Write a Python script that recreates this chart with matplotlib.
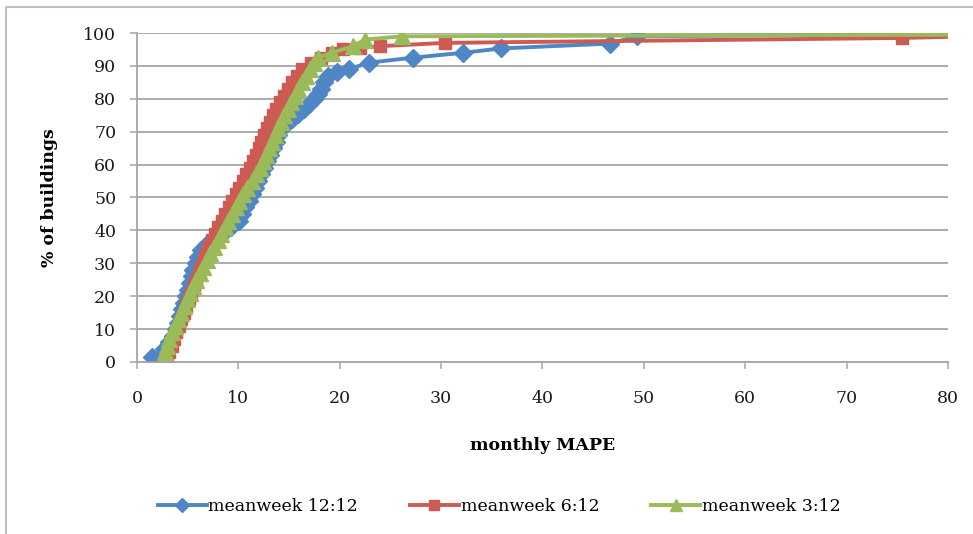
import matplotlib
matplotlib.use('Agg')
import matplotlib.pyplot as plt
from matplotlib.lines import Line2D

plt.rcParams['font.family'] = ['DejaVu Serif']

# cumulative share of buildings (%) vs monthly MAPE
blue_x = [1.5, 2.7, 3.2, 3.55, 3.85, 4.05, 4.25, 4.45, 4.65, 4.85, 5.0, 5.2, 5.4, 5.55, 5.8, 6.0, 6.3,
          6.8, 7.5, 8.4, 9.3, 10.1, 10.4, 10.7, 11.0, 11.3, 11.6, 11.9, 12.2, 12.5, 12.8, 13.1, 13.4, 13.7, 13.95, 14.3,
          14.8, 15.3, 15.9, 16.5, 17.0, 17.5, 17.9, 18.2,
          18.4, 18.8, 19.7, 20.9, 22.9, 27.2, 32.2, 35.9, 46.7, 49.3, 85]
blue_y = [1.5, 4, 6, 8, 10, 12, 14, 16, 18, 20, 22, 24, 26, 28, 30, 32, 34,
          35.5, 37, 39, 41, 43, 45, 47, 49, 51, 53, 55, 57, 59, 61, 63, 65, 67, 69, 71,
          72.5, 74, 75.5, 77, 78.5, 80, 81.5, 83,
          85, 87, 88, 89, 91, 92.5, 94, 95.3, 96.8, 99, 99.8]

red_x = [3.0, 3.2, 3.45, 3.65, 3.85, 4.1, 4.35, 4.6, 4.85, 5.1, 5.35, 5.6, 5.85, 6.1, 6.35,
         6.6, 6.85, 7.1, 7.4, 7.7, 8.0, 8.35, 8.7, 9.05, 9.4, 9.75, 10.1, 10.45, 10.8, 11.1,
         11.4, 11.7, 12.0, 12.25, 12.5, 12.8, 13.1, 13.4, 13.75, 14.1, 14.5, 14.9, 15.3, 15.8, 16.3,
         17.2, 18.2, 19.2, 20.3, 22.0, 24.0, 30.4, 75.5, 85]
red_y = [1, 3, 5, 7, 9, 11, 13, 15, 17, 19, 21, 23, 25, 27, 29,
         31, 33, 35, 37, 39, 41, 43, 45, 47, 49, 51, 53, 55, 57, 59,
         61, 63, 65, 67, 69, 71, 73, 75, 77, 79, 81, 83, 85, 87, 89,
         91, 92.5, 94, 95, 95.5, 96, 97, 98.5, 99.2]

green_x = [2.5, 2.8, 3.0, 3.2, 3.45, 3.7, 4.0, 4.3, 4.6, 4.9, 5.2, 5.55, 5.85, 6.2, 6.5,
           6.9, 7.25, 7.6, 7.95, 8.3, 8.65, 9.0, 9.4, 9.75, 10.1, 10.5, 10.9, 11.3, 11.7, 12.1,
           12.45, 12.75, 13.05, 13.35, 13.65, 13.95, 14.25, 14.55, 14.85, 15.2, 15.55, 15.9, 16.3, 16.7, 17.1,
           17.5, 17.9, 19.2, 21.3, 22.5, 26.1, 85]
green_y = [0.5, 3, 5, 7, 9, 11, 13, 15, 17, 19, 21, 23, 25, 27, 29,
           31, 33, 35, 37, 39, 41, 43, 45, 47, 49, 51, 53, 55, 57, 59,
           61, 63, 65, 67, 69, 71, 73, 75, 77, 79, 81, 83, 85, 87, 89,
           91, 92.5, 94, 96, 98, 99, 99.5]

series = [
    ('meanweek 12:12', blue_x, blue_y, '#4F86C6', 'D', 9.5),
    ('meanweek 6:12', red_x, red_y, '#CD5B54', 's', 9),
    ('meanweek 3:12', green_x, green_y, '#9BBB59', '^', 11),
]

x_ticks = list(range(0, 81, 10))
y_ticks = list(range(0, 101, 10))

fig = plt.figure(figsize=(9.73, 5.34), dpi=100)
ax = fig.add_axes([0.1408, 0.3221, 0.8335, 0.6161])

grid_col = '#A6A6A6'
for name, xs, ys, col, mk, ms in series:
    ax.plot(xs, ys, color=col, lw=2.8, marker=mk, ms=ms, mec=col, mfc=col, label=name)

ax.set_xlim(0, 80)
ax.set_ylim(0, 100)
ax.set_xticks(x_ticks)
ax.set_yticks(y_ticks)
ax.yaxis.grid(True, color=grid_col, lw=1.3)
ax.set_axisbelow(True)
for s in ['top', 'right']:
    ax.spines[s].set_visible(False)
for s in ['left', 'bottom']:
    ax.spines[s].set_color(grid_col)
    ax.spines[s].set_linewidth(1.3)
ax.tick_params(axis='both', direction='out', length=5, width=1.1, color=grid_col,
               labelsize=12.5, labelcolor='#1a1a1a')
ax.tick_params(axis='y', pad=10)
ax.tick_params(axis='x', pad=15)

ax.set_xlabel('monthly MAPE', fontsize=12.5, fontweight='bold', labelpad=22)
ax.set_ylabel('% of buildings', fontsize=12.5, fontweight='bold', labelpad=18)

leg = fig.legend(loc='center', bbox_to_anchor=(0.513, 0.052), ncol=3, frameon=False,
                 fontsize=12.5, handlelength=2.8, columnspacing=3.0, handletextpad=0.1,
                 markerscale=0.75)

# chart outer frame (only top and left visible in the crop)
fig.add_artist(Line2D([6 / 973, 6 / 973, 1], [0, 1 - 7 / 534, 1 - 7 / 534],
                      transform=fig.transFigure, color='#BFBFBF', lw=1.5))

fig.savefig('out.png', dpi=100)
plt.close(fig)
